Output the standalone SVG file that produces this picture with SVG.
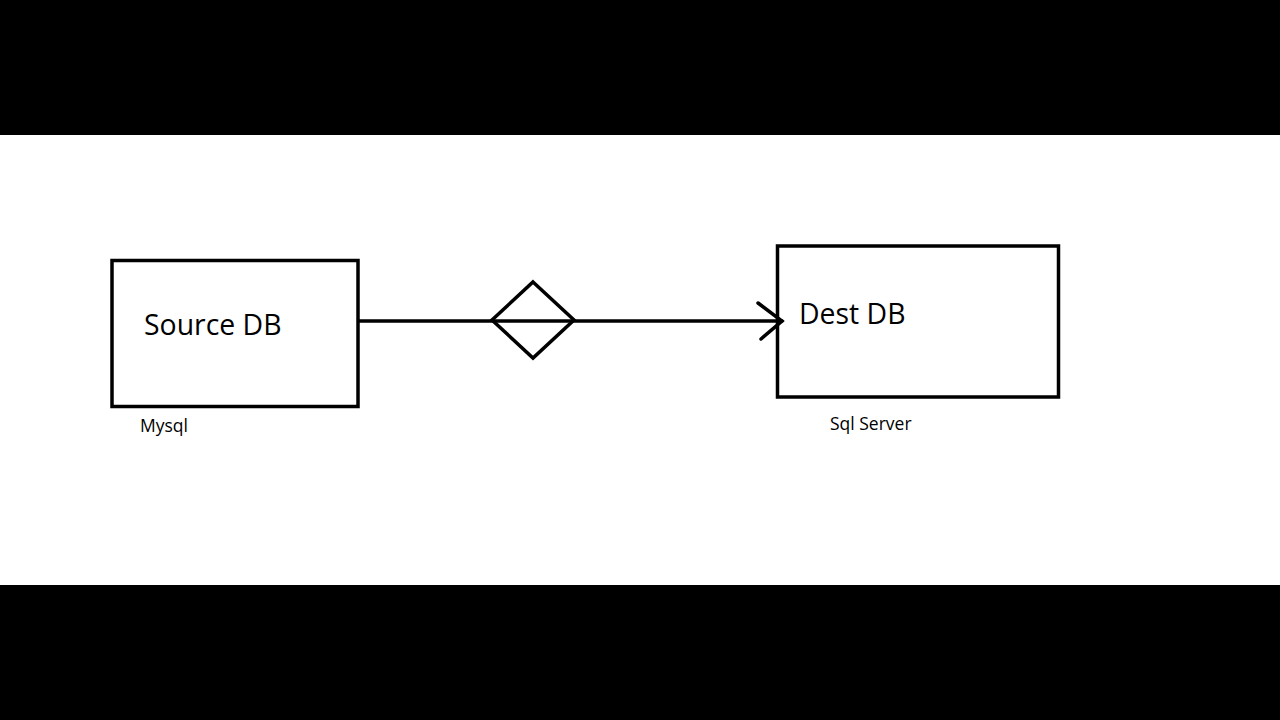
<svg xmlns="http://www.w3.org/2000/svg" width="1280" height="720" viewBox="0 0 1280 720">
<style>
.box{fill:none;stroke:#000;stroke-width:3.5}
.big{font-family:"Open Sans","Liberation Sans",sans-serif;font-size:28.4px;fill:#000}
.small{font-family:"Open Sans","Liberation Sans",sans-serif;font-size:17.5px;fill:#000}
.ln{fill:none;stroke:#000;stroke-width:3.5;stroke-linecap:round;stroke-linejoin:miter}
</style>
<rect x="0" y="0" width="1280" height="720" fill="#fff"/>
<rect x="0" y="0" width="1280" height="135" fill="#000"/>
<rect x="0" y="585" width="1280" height="135" fill="#000"/>
<g id="connectors">
<line class="ln" x1="359" y1="321" x2="782" y2="321"/>
<polyline class="ln" points="758,303 782,321 761,339"/>
</g>
<g id="source">
<rect class="box" x="112" y="260.5" width="246" height="146"/>
<text class="big" x="144" y="335">Source DB</text>
<text class="small" x="140" y="432">Mysql</text>
</g>
<g id="gateway">
<polygon class="ln" points="533,282 574,320 533,358 492,320"/>
</g>
<g id="dest">
<rect class="box" x="777.5" y="246" width="281" height="151"/>
<text class="big" x="799" y="324">Dest DB</text>
<text class="small" x="830" y="430">Sql Server</text>
</g>
</svg>
